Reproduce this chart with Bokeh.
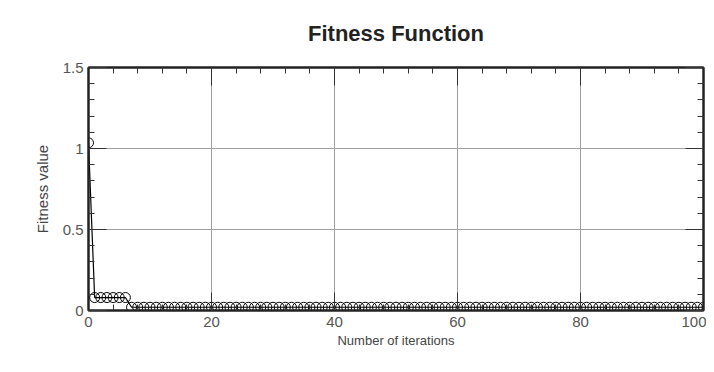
from bokeh.plotting import figure
from bokeh.models import Range1d, LinearAxis, Title, SingleIntervalTicker
from bokeh.embed import file_html
from bokeh.resources import INLINE

iterations = list(range(0, 101))
fitness = [1.035,
           0.08, 0.08, 0.08, 0.08, 0.08, 0.08,
           0.02, 0.02, 0.02, 0.02, 0.02, 0.02, 0.02, 0.02, 0.02, 0.02,
           0.02, 0.02, 0.02, 0.02, 0.02, 0.02, 0.02, 0.02, 0.02, 0.02,
           0.02, 0.02, 0.02, 0.02, 0.02, 0.02, 0.02, 0.02, 0.02, 0.02,
           0.02, 0.02, 0.02, 0.02, 0.02, 0.02, 0.02, 0.02, 0.02, 0.02,
           0.02, 0.02, 0.02, 0.02, 0.02, 0.02, 0.02, 0.02, 0.02, 0.02,
           0.02, 0.02, 0.02, 0.02, 0.02, 0.02, 0.02, 0.02, 0.02, 0.02,
           0.02, 0.02, 0.02, 0.02, 0.02, 0.02, 0.02, 0.02, 0.02, 0.02,
           0.02, 0.02, 0.02, 0.02, 0.02, 0.02, 0.02, 0.02, 0.02, 0.02,
           0.02, 0.02, 0.02, 0.02, 0.02, 0.02, 0.02, 0.02, 0.02, 0.02,
           0.02, 0.02, 0.02, 0.02]
x_tick_step = 20
y_tick_step = 0.5

FONT = "Liberation Sans"

p = figure(width=706, height=364, output_backend="svg", toolbar_location=None,
           x_range=Range1d(0, 100), y_range=Range1d(0, 1.5),
           min_border_left=88, min_border_right=3, min_border_top=66, min_border_bottom=54,
           x_axis_label="Number of iterations", y_axis_label="Fitness value")
p.title = Title(text="Fitness Function", align="center", standoff=40,
                vertical_align="top",
                text_font=FONT, text_font_size="22px", text_font_style="bold",
                text_color="#222222")

p.outline_line_color = "#222222"
p.outline_line_width = 2

def style_axis(ax, labels=True):
    ax.axis_line_color = "#222222"
    ax.axis_line_width = 2
    ax.major_tick_in = 18
    ax.major_tick_out = 0
    ax.minor_tick_in = 6
    ax.minor_tick_out = 0
    ax.major_tick_line_color = "#333333"
    ax.minor_tick_line_color = "#333333"
    ax.major_label_text_font = FONT
    ax.major_label_text_font_size = "15px"
    ax.major_label_text_color = "#555555"
    ax.axis_label_text_font = FONT
    ax.axis_label_text_font_size = "13px"
    ax.axis_label_text_font_style = "normal"
    ax.axis_label_text_color = "#444444"
    if not labels:
        ax.major_label_text_font_size = "0px"
        ax.major_label_text_alpha = 0
        ax.major_label_standoff = 0

xt = SingleIntervalTicker(interval=x_tick_step, num_minor_ticks=5)
yt = SingleIntervalTicker(interval=y_tick_step, num_minor_ticks=5)
p.xaxis.ticker = xt
p.yaxis.ticker = yt
style_axis(p.xaxis[0])
style_axis(p.yaxis[0])
p.yaxis[0].axis_label_text_font_size = "15px"
p.xaxis[0].major_label_standoff = 6
p.yaxis[0].major_label_standoff = 5
p.yaxis[0].axis_label_standoff = 9
p.xaxis[0].axis_label_standoff = 3

top = LinearAxis(ticker=SingleIntervalTicker(interval=x_tick_step, num_minor_ticks=5))
right = LinearAxis(ticker=SingleIntervalTicker(interval=y_tick_step, num_minor_ticks=5))
style_axis(top, labels=False)
style_axis(right, labels=False)
p.add_layout(top, "above")
p.add_layout(right, "right")

p.xgrid.ticker = xt
p.ygrid.ticker = yt
p.grid.grid_line_color = "#a0a0a0"
p.grid.grid_line_width = 1

p.line(iterations, fitness, line_color="black", line_width=1.2)
p.scatter(iterations, fitness, marker="circle", size=10, line_color="black",
          line_width=1, fill_color=None)

open("out.html", "w").write(file_html(p, INLINE))
